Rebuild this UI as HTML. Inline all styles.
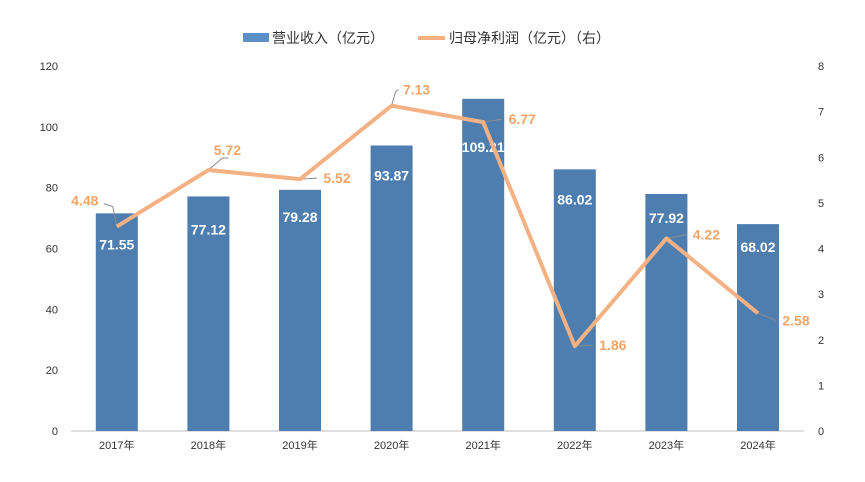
<!DOCTYPE html>
<html><head><meta charset="utf-8"><style>
body{margin:0;background:#fff;font-family:"Liberation Sans","Noto Sans CJK SC",sans-serif}
</style></head><body>
<svg id="c" width="865" height="477" xmlns="http://www.w3.org/2000/svg"></svg>
<script>
const categories=["2017年","2018年","2019年","2020年","2021年","2022年","2023年","2024年"];
const revenue=[71.55,77.12,79.28,93.87,109.21,86.02,77.92,68.02];
const profit=[4.48,5.72,5.52,7.13,6.77,1.86,4.22,2.58];
const leftTicks=[0,20,40,60,80,100,120];
const rightTicks=[0,1,2,3,4,5,6,7,8];
const NS="http://www.w3.org/2000/svg",svg=document.getElementById('c');
const x0=71,bw=91.6,yb=431,yt=66;
const xc=i=>x0+bw*(i+0.5);
const yL=v=>yb-(v/120)*(yb-yt);
const yR=v=>yb-(v/8)*(yb-yt);
function mk(t,a,txt){const e=document.createElementNS(NS,t);for(const k in a)e.setAttribute(k,a[k]);if(txt!=null)e.textContent=txt;svg.appendChild(e);return e;}
leftTicks.forEach(v=>{const e=mk('text',{x:58,y:yL(v)+4,'text-anchor':'end','font-size':11,fill:'#333'},v);

});
rightTicks.forEach(v=>{const e=mk('text',{x:818,y:yR(v)+4,'text-anchor':'start','font-size':11,fill:'#333'},v);

});
const ax=mk('line',{x1:x0,x2:x0+bw*8,y1:yb,y2:yb,stroke:'#bfbfbf','stroke-width':1});


const lblOff=[31,33,27,30,48,30,24,23];
revenue.forEach((v,i)=>{
const r=mk('rect',{x:xc(i)-21,y:yL(v),width:42,height:yb-yL(v),fill:'#4e7daf'});


const t=mk('text',{x:xc(i),y:yL(v)+lblOff[i]+5,'text-anchor':'middle','font-size':14,'font-weight':'bold',fill:'#fff'},v.toFixed(2));


const c=mk('text',{x:xc(i),y:449,'text-anchor':'middle','font-size':11,fill:'#333'},categories[i]);


});
const lo=[[-32,-26],[19,-20],[37,-1],[25,-16],[39,-3],[38,-1],[40,-4],[38,7]];
profit.forEach((v,i)=>{
const px=xc(i),py=yR(v);
let pts;
if(i==0)pts=`${px},${py} ${px-4},${py-20} ${px-13},${py-23}`;
else if(i==1)pts=`${px},${py} ${px+14},${py-12} ${px+20},${py-12}`;
else if(i==3)pts=`${px},${py} ${px+4},${py-14} ${px+7},${py-16}`;
else pts=`${px},${py} ${px+lo[i][0]-20},${py+lo[i][1]}`;
const l=mk('polyline',{points:pts,fill:'none',stroke:'#8c8c8c','stroke-width':1});


});
const linePts=profit.map((v,i)=>xc(i)+','+yR(v)).join(' ');
const pl=mk('polyline',{points:linePts,fill:'none',stroke:'#f4b183','stroke-width':4,'stroke-linejoin':'round'});


profit.forEach((v,i)=>{
const px=xc(i),py=yR(v);
const t=mk('text',{x:px+lo[i][0],y:py+lo[i][1]+5,'text-anchor':'middle','font-size':14,'font-weight':'bold',fill:'#f4a468'},v.toFixed(2));


});
let e=mk('rect',{x:243,y:33,width:26,height:9,fill:'#5b8fc7'});


e=mk('text',{x:272,y:43,'font-size':14,fill:'#333'},'营业收入（亿元）');


e=mk('line',{x1:418,x2:445,y1:38,y2:38,stroke:'#f4b183','stroke-width':4});


e=mk('text',{x:449,y:43,'font-size':14,fill:'#333'},'归母净利润（亿元）（右）');


</script>
</body></html>
